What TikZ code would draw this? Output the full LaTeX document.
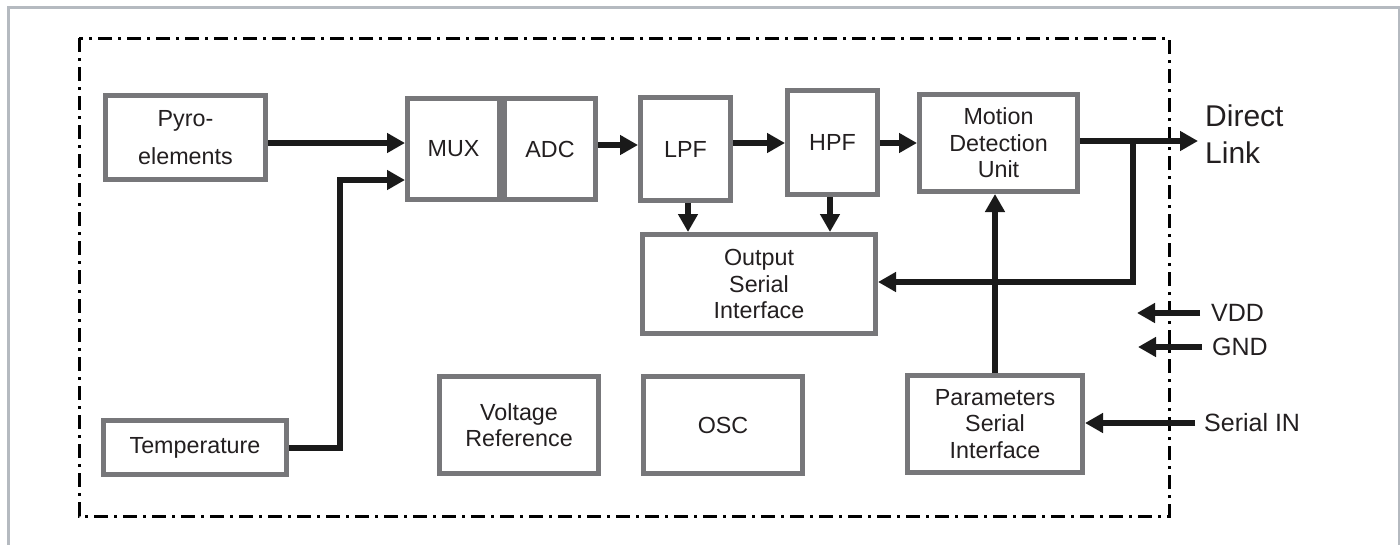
\documentclass[tikz,border=0pt]{standalone}
\usepackage{fontspec}
\setmainfont{Liberation Sans}
\usetikzlibrary{arrows.meta}
\definecolor{boxgray}{HTML}{77777A}
\definecolor{framegray}{HTML}{B5BAC0}
\definecolor{txt}{HTML}{231F20}
\definecolor{wirec}{HTML}{1A1A1A}
\begin{document}
\begin{tikzpicture}[x=1pt,y=-1pt,
  blk/.style={draw=boxgray, line width=5pt, fill=white, text=txt, align=center,
    inner sep=0pt, font=\fontsize{23.3}{26.5}\selectfont},
  arr/.style={line width=6pt, draw=wirec, -{Triangle[length=18pt,width=19pt]}},
  lbl/.style={text=txt, anchor=west, inner sep=0pt, font=\fontsize{25}{30}\selectfont}]
\useasboundingbox (0,0) rectangle (1400,544);
% outer light frame
\draw[framegray, line width=3pt] (8,548) -- (8,7) -- (1399,7) -- (1399,548);
% dash-dot chip boundary
\draw[line width=3pt, dash pattern=on 14pt off 6pt on 3pt off 6pt] (79,38) rectangle (1169,516);

% blocks
\node[blk, minimum width=160pt, minimum height=84pt] (pyro) at (185.5,137.5) {Pyro-\\[12pt]elements};
\node[blk, minimum width=92pt, minimum height=101pt] (mux) at (453.5,149) {MUX};
\node[blk, minimum width=91pt, minimum height=101pt] (adc) at (550,149) {ADC};
\node[blk, minimum width=90pt, minimum height=103pt] (lpf) at (685.5,149) {LPF};
\node[blk, minimum width=90pt, minimum height=104pt] (hpf) at (832.5,142.5) {HPF};
\node[blk, minimum width=158pt, minimum height=97pt] (mdu) at (998.5,143) {Motion\\Detection\\Unit};
\node[blk, minimum width=233pt, minimum height=99pt] (osi) at (759,284) {Output\\Serial\\Interface};
\node[blk, minimum width=183pt, minimum height=54pt] (temp) at (195,447.5) {Temperature};
\node[blk, minimum width=159pt, minimum height=97pt] (vref) at (519,425) {Voltage\\Reference};
\node[blk, minimum width=159pt, minimum height=97pt] (osc) at (723,425) {OSC};
\node[blk, minimum width=175pt, minimum height=97pt] (psi) at (995,424) {Parameters\\Serial\\Interface};

% outside labels
\node[text=txt, anchor=west, inner sep=0pt, align=left, font=\fontsize{30}{37}\selectfont] (dlink) at (1205,134) {Direct\\Link};
\node[lbl] (vdd) at (1211,313) {VDD};
\node[lbl] (gnd) at (1212,347) {GND};
\node[lbl] (serin) at (1204,423) {Serial IN};

% helper coordinates
\coordinate (y1) at (0,143);
\coordinate (y2) at (0,180);
\coordinate (y3) at (0,145);
\coordinate (y4) at (0,141);
\coordinate (y5) at (0,282);
\coordinate (tk) at (340,447);
\coordinate (dl) at (1198,141);
\coordinate (br) at (1133,141);
\coordinate (x1) at (688,0);
\coordinate (x2) at (830,0);
\coordinate (x3) at (995,0);
\coordinate (vddin) at (1137,313);
\coordinate (gndin) at (1138,347);

% connectors
\draw[arr] (pyro.east |- y1) -- (mux.west |- y1);
\draw[arr] (temp.east) -- (temp.east -| tk) |- (mux.west |- y2);
\draw[arr] (adc.east |- y3) -- (lpf.west |- y3);
\draw[arr] (lpf.east |- y1) -- (hpf.west |- y1);
\draw[arr] (hpf.east |- y1) -- (mdu.west |- y1);
\draw[arr] (mdu.east |- y4) -- (dl);
\draw[arr] (br) |- (osi.east |- y5);
\draw[arr] (lpf.south -| x1) -- (osi.north -| x1);
\draw[arr] (hpf.south -| x2) -- (osi.north -| x2);
\draw[arr] (psi.north -| x3) -- (mdu.south -| x3);
\draw[arr] ([xshift=-11pt]vdd.west) -- (vddin);
\draw[arr] ([xshift=-10pt]gnd.west) -- (gndin);
\draw[arr] ([xshift=-9pt]serin.west) -- (serin.west -| psi.east);
\end{tikzpicture}
\end{document}
